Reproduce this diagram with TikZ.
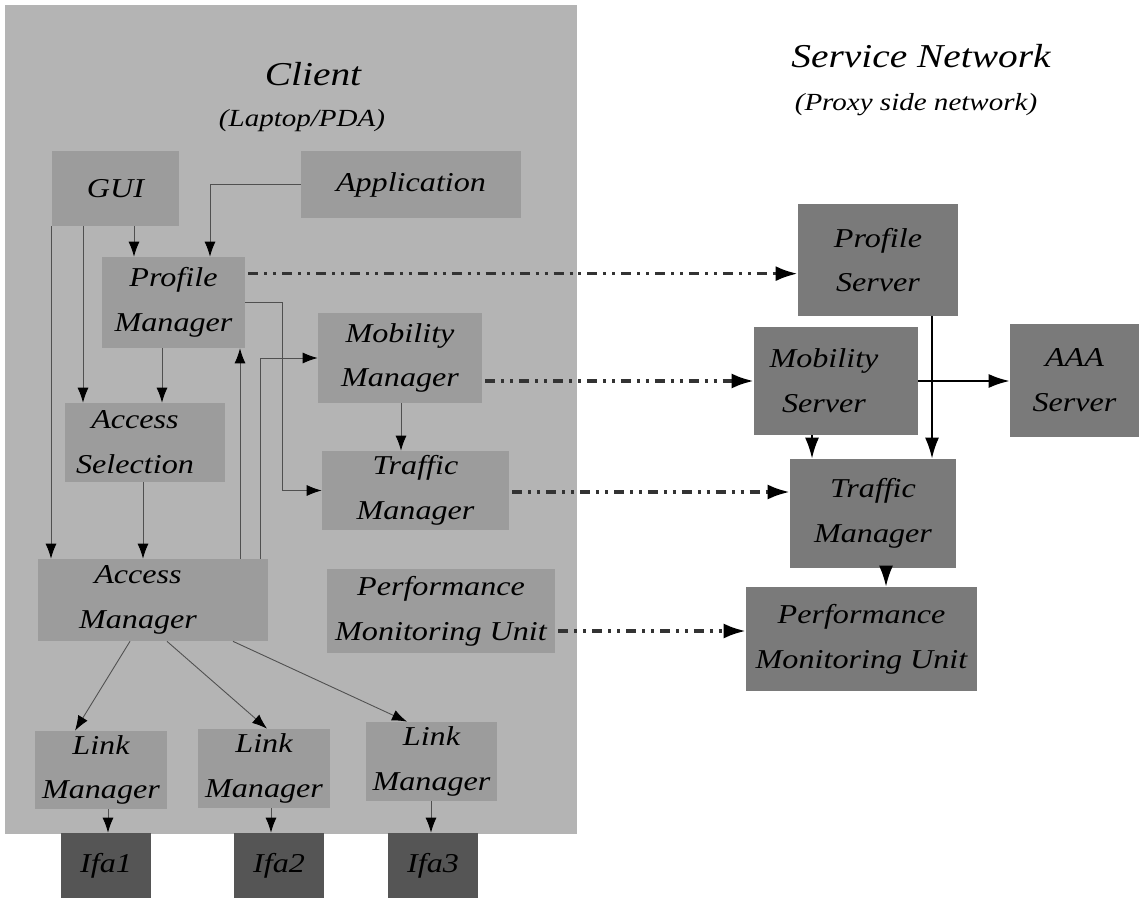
\documentclass[tikz,border=0pt]{standalone}
\usepackage{fontspec}
\setmainfont{Liberation Serif}[FakeStretch=1.18]
\usetikzlibrary{arrows.meta,calc}
\definecolor{clientbg}{HTML}{B4B4B4}
\definecolor{innerbox}{HTML}{9C9C9C}
\definecolor{serverbox}{HTML}{7A7A7A}
\definecolor{ifabox}{HTML}{555555}
\definecolor{thinline}{HTML}{505050}
\definecolor{dashline}{HTML}{333333}
\newcommand\boxfont{\fontsize{15.5}{25.5}\selectfont\itshape}
\newcommand\titlefont{\fontsize{19}{23}\selectfont\itshape}
\newcommand\subtitlefont{\fontsize{14}{17}\selectfont\itshape}
\newcommand\pushleft[1]{\hspace*{#1}}
\begin{document}
\begin{tikzpicture}[x=0.02cm,y=-0.02cm,
  inbox/.style={fill=innerbox, inner sep=0pt, align=center, font=\boxfont, text=black},
  srvbox/.style={fill=serverbox, inner sep=0pt, align=center, font=\boxfont, text=black},
  ifab/.style={fill=ifabox, inner sep=0pt, align=center, font=\boxfont, text=black},
  conn/.style={draw=thinline, line width=0.5pt, -{Latex[length=0.3cm,width=0.22cm,color=black]}},
  srvconn/.style={draw=black, line width=1.2pt, -{Latex[length=0.42cm,width=0.28cm]}},
  dashconn/.style={draw=dashline, line width=1.8pt,
    dash pattern=on 5.7pt off 3.4pt on 1.7pt off 3.4pt on 1.7pt off 3.4pt,
    -{Latex[length=0.44cm,width=0.3cm,color=black]}}]
\useasboundingbox (0,0) rectangle (1139,898);
\fill[white] (0,0) rectangle (1139,898);

% client background
\node[fill=clientbg, inner sep=0pt, minimum width=11.44cm, minimum height=16.58cm] (client) at (291,419.5) {};

% titles
\node[anchor=base, font=\titlefont] (ctitle) at (313,86) {Client};
\node[anchor=base, font=\subtitlefont] (csub) at (302,127) {(Laptop/PDA)};
\node[anchor=base, font=\titlefont] (stitle) at (921,68) {Service Network};
\node[anchor=base, font=\subtitlefont] (ssub) at (916,111) {(Proxy side network)};

% client boxes
\node[inbox, minimum width=2.54cm, minimum height=1.5cm] (gui) at (115.5,188.5) {GUI};
\node[inbox, minimum width=4.4cm, minimum height=1.34cm] (app) at (411,184.5) {Application};
\node[inbox, minimum width=2.86cm, minimum height=1.82cm] (pm) at (173.5,302.5) {Profile\\Manager};
\node[inbox, minimum width=3.28cm, minimum height=1.8cm] (mm) at (400,358) {Mobility\\Manager};
\node[inbox, minimum width=3.2cm, minimum height=1.58cm] (as) at (145,442.5) {Access\pushleft{0.4cm}\\Selection\pushleft{0.4cm}};
\node[inbox, minimum width=3.74cm, minimum height=1.58cm] (tm) at (415.5,490.5) {Traffic\\Manager};
\node[inbox, minimum width=4.6cm, minimum height=1.64cm] (am) at (153,600) {Access\pushleft{0.6cm}\\Manager\pushleft{0.6cm}};
\node[inbox, minimum width=4.56cm, minimum height=1.68cm] (pmuc) at (441,611) {Performance\\Monitoring Unit};
\node[inbox, minimum width=2.64cm, minimum height=1.56cm] (lm1) at (101,770) {Link\\Manager};
\node[inbox, minimum width=2.64cm, minimum height=1.58cm] (lm2) at (264,768.5) {Link\\Manager};
\node[inbox, minimum width=2.62cm, minimum height=1.58cm] (lm3) at (431.5,761.5) {Link\\Manager};
\node[ifab, minimum width=1.8cm, minimum height=1.3cm] (ifa1) at (106,865.5) {Ifa1};
\node[ifab, minimum width=1.8cm, minimum height=1.3cm] (ifa2) at (279,865.5) {Ifa2};
\node[ifab, minimum width=1.8cm, minimum height=1.3cm] (ifa3) at (433,865.5) {Ifa3};

% server boxes
\node[srvbox, minimum width=3.2cm, minimum height=2.24cm] (ps) at (878,260) {Profile\\Server};
\node[srvbox, minimum width=3.28cm, minimum height=2.16cm] (ms) at (836,381) {Mobility\pushleft{0.48cm}\\Server\pushleft{0.48cm}};
\node[srvbox, minimum width=2.58cm, minimum height=2.26cm] (aaa) at (1074.5,380.5) {AAA\\Server};
\node[srvbox, minimum width=3.32cm, minimum height=2.18cm] (tms) at (873,513.5) {Traffic\\Manager};
\node[srvbox, minimum width=4.62cm, minimum height=2.08cm] (pmus) at (861.5,639) {Performance\\Monitoring Unit};

% helper coordinates
\coordinate (g1) at ($(gui.south)+(18.5,0)$);
\coordinate (g2) at ($(gui.south)+(-32.5,0)$);
\coordinate (g3) at ($(gui.south)+(-64.5,0)$);
\coordinate (p1) at ($(pm.south)+(-11.5,0)$);
\coordinate (pt) at ($(pm.north)+(36.5,0)$);
\coordinate (a1) at ($(am.north)+(87,0)$);
\coordinate (a2) at ($(am.north)+(107,0)$);
\coordinate (s1) at ($(as.south)+(-2,0)$);
\coordinate (m1) at ($(mm.south)+(1,0)$);
\coordinate (l1) at ($(lm1.south)+(7,0)$);
\coordinate (l2) at ($(lm2.south)+(7,0)$);
\coordinate (l3) at ($(lm3.south)+(-0.5,0)$);
\coordinate (d1) at ($(pm.north east)+(3,17)$);
\coordinate (d2) at ($(mm.east)+(3,23)$);
\coordinate (d3) at ($(tm.east)+(3,1.5)$);
\coordinate (d4) at ($(pmuc.east)+(3,20)$);
\coordinate (v1) at ($(ps.south)+(54,0)$);
\coordinate (v2) at ($(ms.south)+(-24,0)$);
\coordinate (v3) at ($(tms.south)+(13,0)$);

% client connectors
\draw[conn] (app.west) -| (pt);
\draw[conn] (g1) -- (g1 |- pm.north);
\draw[conn] (g2) -- (g2 |- as.north);
\draw[conn] (g3) -- (g3 |- am.north);
\draw[conn] (p1) -- (p1 |- as.north);
\draw[conn] (pm.east) -- ++(37.5,0) |- (tm.west);
\draw[conn] (a1) -- (a1 |- pm.south);
\draw[conn] (a2) |- (mm.west);
\draw[conn] (s1) -- (s1 |- am.north);
\draw[conn] (m1) -- (m1 |- tm.north);
\draw[conn] ($(am.south)+(-23,0)$) -- ($(lm1.north)+(-26,0)$);
\draw[conn] ($(am.south)+(14,0)$) -- ($(lm2.north)+(3,0)$);
\draw[conn] ($(am.south)+(80,0)$) -- ($(lm3.north)+(-24.5,0)$);
\draw[conn] (l1) -- (l1 |- ifa1.north);
\draw[conn] (l2) -- (l2 |- ifa2.north);
\draw[conn] (l3) -- (l3 |- ifa3.north);

% dash-dot connectors
\draw[dashconn] (d1) -- (d1 -| ps.west);
\draw[dashconn] (d2) -- (d2 -| ms.west);
\draw[dashconn] (d3) -- (d3 -| tms.west);
\draw[dashconn] (d4) -- (d4 -| pmus.west);

% server connectors
\draw[srvconn] (v1) -- (v1 |- tms.north);
\draw[srvconn] (ms.east) -- (ms.east -| aaa.west);
\draw[srvconn] (v2) -- (v2 |- tms.north);
\draw[srvconn] (v3) -- (v3 |- pmus.north);
\end{tikzpicture}
\end{document}
